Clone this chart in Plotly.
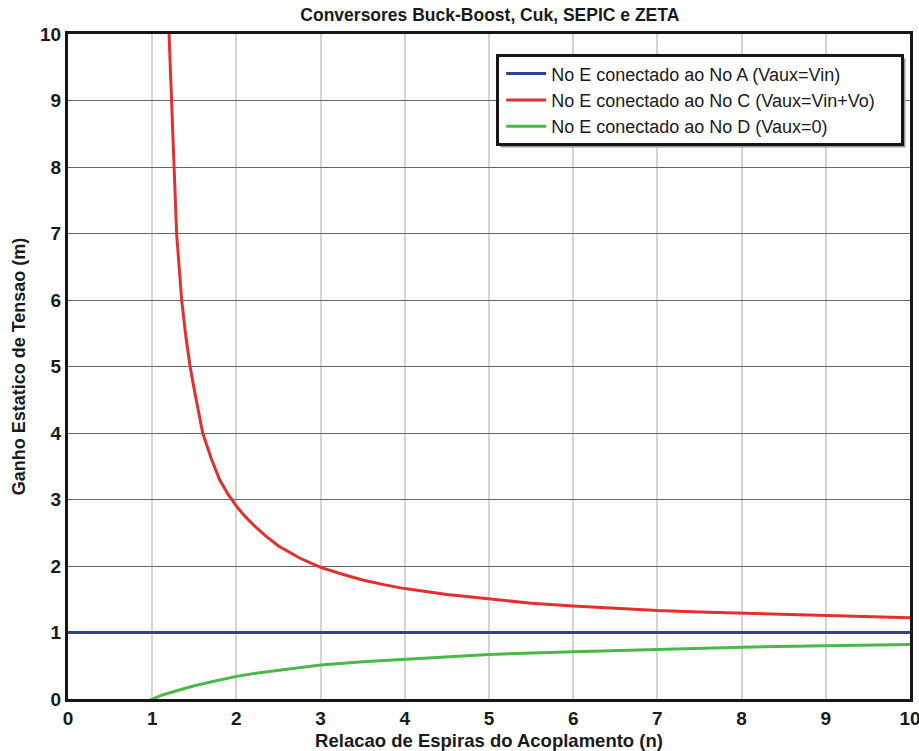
import plotly.graph_objects as go

# Relacao de espiras (n) e ganho estatico (m)
n_blue = [0, 10]
m_blue = [1.0, 1.0]

n_red = [1.2, 1.22, 1.25, 1.29, 1.32, 1.35, 1.4, 1.45, 1.5, 1.55, 1.6, 1.7, 1.8, 1.9, 2.0, 2.1, 2.2,
         2.35, 2.5, 2.75, 3.0, 3.25, 3.5, 3.75, 4.0, 4.5, 5.0, 5.5, 6.0, 6.5, 7.0, 7.5, 8.0,
         8.5, 9.0, 9.5, 10.0]
m_red = [10.0, 9.3, 8.3, 7.0, 6.5, 6.0, 5.45, 5.0, 4.65, 4.3, 4.0, 3.62, 3.3, 3.08, 2.9, 2.75, 2.62,
         2.45, 2.3, 2.12, 1.98, 1.88, 1.79, 1.72, 1.66, 1.57, 1.5, 1.44, 1.4, 1.36, 1.33, 1.31, 1.29,
         1.27, 1.25, 1.24, 1.22]

n_green = [0.95, 1.0, 1.05, 1.1, 1.2, 1.3, 1.4, 1.5, 1.75, 2.0, 2.25, 2.5, 3.0, 3.5, 4.0, 4.5,
           5.0, 6.0, 7.0, 8.0, 9.0, 10.0]
m_green = [-0.03, 0.0, 0.02, 0.05, 0.09, 0.13, 0.17, 0.2, 0.27, 0.34, 0.39, 0.43, 0.51, 0.56, 0.6, 0.64,
           0.67, 0.71, 0.75, 0.78, 0.8, 0.82]

labels = ["No E conectado ao No A (Vaux=Vin)",
          "No E conectado ao No C (Vaux=Vin+Vo)",
          "No E conectado ao No D (Vaux=0)"]
colors = ["#2e4393", "#e2302e", "#4cb848"]

FONT = "Liberation Sans, Arial, sans-serif"

fig = go.Figure()
for xs, ys, name, c in zip([n_blue, n_red, n_green], [m_blue, m_red, m_green], labels, colors):
    fig.add_trace(go.Scatter(x=xs, y=ys, mode="lines", name=name,
                             line=dict(color=c, width=3)))

axis_common = dict(
    showline=True, linecolor="#1a1414", linewidth=3, mirror=True,
    ticks="", zeroline=False, automargin=False, ticklabeloverflow="allow",
    tickfont=dict(family=FONT, size=19, color="#1a1a1a", weight="bold"),
    dtick=1,
)
fig.update_xaxes(range=[0, 10], gridcolor="#d4d4d4", gridwidth=2,
                 title=dict(text="Relacao de Espiras do Acoplamento (n)", standoff=7,
                            font=dict(family=FONT, size=18.5, color="#1a1a1a", weight="bold")),
                 **axis_common)
fig.update_yaxes(range=[0, 10], gridcolor="#666666", gridwidth=1,
                 title=dict(text="Ganho Estatico de Tensao (m)", standoff=10,
                            font=dict(family=FONT, size=18, color="#1a1a1a", weight="bold")),
                 **axis_common)

# caixa da legenda com sombra
fig.add_shape(type="rect", xref="paper", yref="paper", layer="above",
              x0=0.5137, x1=0.9947, y0=0.8293, y1=0.9632,
              fillcolor="#9a9a9a", line=dict(width=0))
fig.add_shape(type="rect", xref="paper", yref="paper", layer="above",
              x0=0.5101, x1=0.9911, y0=0.8338, y1=0.9677,
              fillcolor="white", line=dict(color="#1a1414", width=3))

fig.update_layout(
    width=919, height=751,
    margin=dict(l=68, r=9, t=34, b=52),
    paper_bgcolor="white", plot_bgcolor="white",
    title=dict(text="Conversores Buck-Boost, Cuk, SEPIC e ZETA", x=0.533, xanchor="center",
               y=0.980, yanchor="middle", automargin=False,
               font=dict(family=FONT, size=17.5, color="#1a1a1a", weight="bold")),
    legend=dict(x=0.5145, y=0.968, xanchor="left", yanchor="top",
                bgcolor="rgba(0,0,0,0)", borderwidth=0,
                font=dict(family=FONT, size=18, color="#1a1a1a"),
                tracegroupgap=0, itemwidth=40),
    showlegend=True,
)

fig.write_html("out.html", config={"displayModeBar": False},
               post_script="document.body.style.margin='0';")
